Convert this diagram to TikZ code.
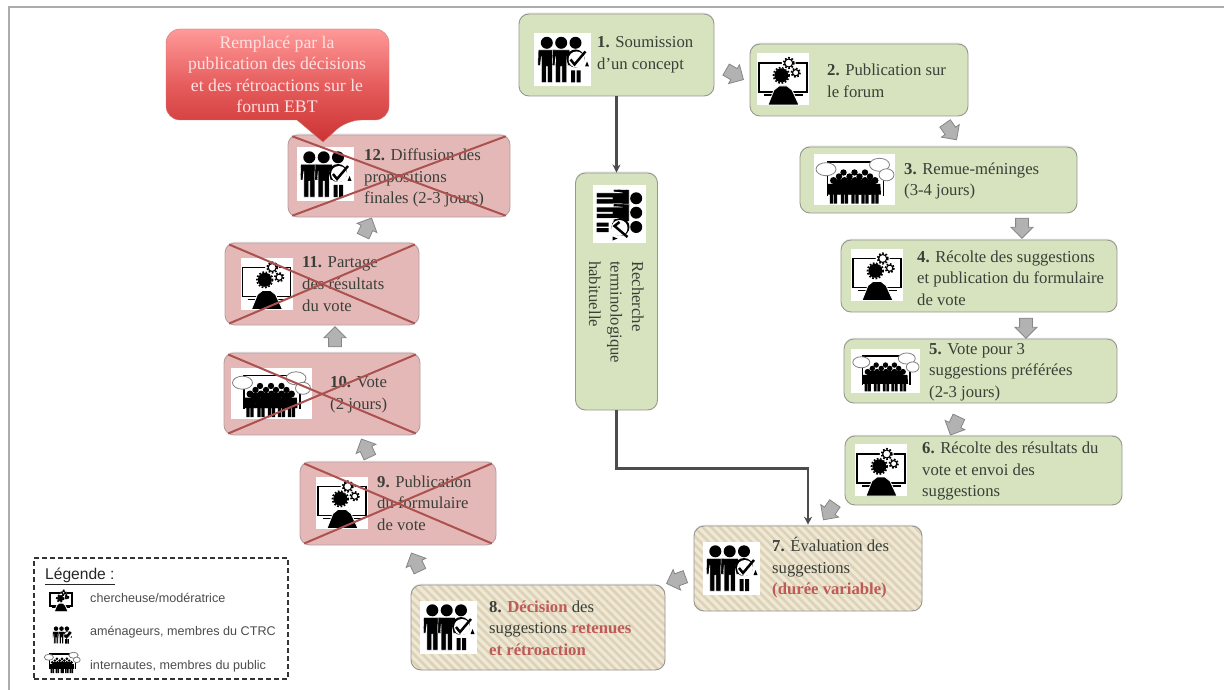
\documentclass[tikz,border=0pt]{standalone}
\usepackage{fontspec}
\setmainfont{Liberation Serif}
\setsansfont{Liberation Sans}
\usepackage{xcolor}
\usetikzlibrary{arrows.meta,shapes.arrows,patterns.meta,shadows}

\definecolor{vertclair}{HTML}{D7E3BE}
\definecolor{rougeclair}{HTML}{E5B8B8}
\definecolor{creme}{HTML}{EFE8D4}
\definecolor{hachure}{HTML}{DDD2B8}
\definecolor{rougetexte}{HTML}{BE5A58}
\definecolor{encre}{HTML}{3A3F38}

\tikzset{
  boxbase/.style={rectangle, rounded corners=10, inner sep=0, line width=.9,
    drop shadow={shadow xshift=0, shadow yshift=-1.5, opacity=.15}},
  vertbox/.style={boxbase, draw=gray!75!vertclair, fill=vertclair},
  rougebox/.style={boxbase, draw=rougeclair!55!gray, fill=rougeclair},
  rayebox/.style={boxbase, draw=gray!80!creme, preaction={fill=creme},
    pattern={Lines[angle=-45,distance=6,line width=2.6]}, pattern color=hachure},
  legendebox/.style={rectangle, inner sep=0, draw=black!80, dash pattern=on 5 off 3, line width=1.5},
  texte/.style={anchor=west, align=left, inner sep=0, text=encre,
    font=\fontsize{16.7}{21.6}\selectfont},
  legtexte/.style={anchor=west, inner sep=0, text=black!70, font=\sffamily\fontsize{12.6}{14}\selectfont},
  bloc/.style={single arrow, draw=gray!95, fill=gray!60, inner sep=0, line width=.8,
    text width=1, text height=6, text depth=6,
    minimum height=20, minimum width=21, single arrow head extend=4.5},
  fleche/.style={draw=black!70, line width=2.4, -{Stealth[length=8,width=8]}},
  croix/.style={draw=rougetexte!90!black, line width=2, shorten <=5, shorten >=5},
  roue/.style={line width=1.7, dash pattern=on 1.7 off 1.7},
  pics/equipe/.style={code={
    \fill[white] (-28.5,-26.5) rectangle (28.5,26.5);
    \foreach \cx in {-15.7,-1.3} {
      \fill (\cx,-16.7) circle (6);
      \fill[draw=white, line width=.4] (\cx-8.5,-9.5) -- (\cx+8.5,-9.5) -- (\cx+9,6) -- (\cx+6.5,6) -- (\cx+5.5,-3)
        -- (\cx+5.5,23) -- (\cx+.6,23) -- (\cx+.6,7) -- (\cx-.6,7) -- (\cx-.6,23) -- (\cx-5.5,23)
        -- (\cx-5.5,-3) -- (\cx-6.5,6) -- (\cx-9,6) -- cycle;
    }
    \fill (13,-16.7) circle (6);
    \fill (13,-1) circle (9);
    \fill[white] (14,0) circle (8);
    \fill (8.5,11) rectangle (12.5,23) (14,11) rectangle (18,23);
    \draw[line width=2.5] (8,0) -- (12,5) -- (23,-8);
    \fill (24.5,2) -- (26.5,7) -- (22.5,7) -- cycle;
  }},
  pics/ecran/.style={code={
    \fill[white] (-26,-26) rectangle (26,26);
    \draw[line width=1.8] (-24,-16) rectangle (24,13);
    \draw[line width=1.3] (-19,16) -- (20,16);
    \fill[draw=white, line width=.8] (-15,26) -- (-9,11) -- (-4,7) -- (4,7) -- (9,11) -- (16,26) -- cycle;
    \fill (-1.7,-3.7) circle (7);
    \draw[roue] (-1.7,-3.7) circle (7.8);
    \fill[white] (5.7,-16) circle (7) (12.7,-6.3) circle (5.8);
    \draw[line width=1.1] (5.7,-16) circle (4) (12.7,-6.3) circle (3.1);
    \draw[roue] (5.7,-16) circle (5.3);
    \draw[roue] (12.7,-6.3) circle (4.4);
  }},
  pics/foule/.style={code={
    \fill[white] (-40.5,-25.5) rectangle (40.5,25.5);
    \draw[line width=1.6] (-27,16) -- (-27,-17.5) -- (29,-17.5) -- (29,16);
    \foreach \cx in {-11,0,10.5} {
      \fill (\cx,-7) circle (3.2);
    }
    \foreach \cx in {-15.5,-5,5,15.5} {
      \fill (\cx,-3) circle (3.2) (\cx-5,0) rectangle (\cx+5,10);
    }
    \foreach \cx in {-21,-10,.5,10.5,20.5} {
      \fill (\cx,1) circle (3.5);
      \fill (\cx-5.3,4.5) -- (\cx+5.3,4.5) -- (\cx+6,15) -- (\cx+3.7,15) -- (\cx+3.7,24)
        -- (\cx+.4,24) -- (\cx+.4,15) -- (\cx-.4,15) -- (\cx-.4,24) -- (\cx-3.7,24) -- (\cx-3.7,15) -- (\cx-6,15) -- cycle;
    }
    \draw[draw=gray, fill=white, line width=.8] (-28.5,-10.3) ellipse (10 and 6.5);
    \draw[draw=gray, fill=white, line width=.8] (25,-14.7) ellipse (10 and 6.5);
    \draw[draw=gray, fill=white, line width=.8] (32,-4.7) ellipse (7.5 and 6);
  }}
}

\begin{document}
\begin{tikzpicture}[x=1pt, y=-1pt]
\useasboundingbox (0,0) rectangle (1224,690);

\draw[gray!65, line width=1.6] (9,690) -- (9,7) -- (1224,7);

% etapes
\node[vertbox, minimum width=195, minimum height=82] (n1) at (616.5,55) {};
\node[vertbox, minimum width=218, minimum height=72] (n2) at (859,80) {};
\node[vertbox, minimum width=277, minimum height=66] (n3) at (938.5,180) {};
\node[vertbox, minimum width=276, minimum height=72] (n4) at (979,276) {};
\node[vertbox, minimum width=273, minimum height=64] (n5) at (980.5,371) {};
\node[vertbox, minimum width=277, minimum height=69] (n6) at (983.5,470.5) {};
\node[rayebox, minimum width=228, minimum height=85] (n7) at (808,568.5) {};
\node[rayebox, minimum width=254, minimum height=85] (n8) at (538,627.5) {};
\node[rougebox, minimum width=196, minimum height=83] (n9) at (398,503.5) {};
\node[rougebox, minimum width=196, minimum height=82] (n10) at (322,394) {};
\node[rougebox, minimum width=194, minimum height=82] (n11) at (322,284) {};
\node[rougebox, minimum width=222, minimum height=82] (n12) at (399,176) {};
\node[vertbox, minimum width=82, minimum height=237] (rech) at (616.5,291.5) {};

% icones
\pic at (562.5,59.5) {equipe};
\pic at (783,79) {ecran};
\pic at (854.5,179.5) {foule};
\pic at (877,274.5) {ecran};
\pic[scale=.85, transform shape] at (885.5,371) {foule};
\pic at (881,470) {ecran};
\pic at (731,568) {equipe};
\pic at (448,627) {equipe};
\pic at (342,502.5) {ecran};
\pic at (271,393) {foule};
\pic at (266.5,283.5) {ecran};
\pic at (325,174) {equipe};
\pic[rotate=-90] at (619.5,214) {equipe};

% textes
\node[texte] (t1) at (597,55) {\textbf{1.} Soumission\\d’un concept};
\node[texte] (t2) at (827,81) {\textbf{2.} Publication sur\\le forum};
\node[texte] (t3) at (904,181) {\textbf{3.} Remue-méninges\\(3-4 jours)};
\node[texte] (t4) at (917,278) {\textbf{4.} Récolte des suggestions\\et publication du formulaire\\de vote};
\node[texte] (t5) at (929,372) {\textbf{5.} Vote pour 3\\suggestions préférées\\(2-3 jours)};
\node[texte] (t6) at (922,471) {\textbf{6.} Récolte des résultats du\\vote et envoi des\\suggestions};
\node[texte] (t7) at (772,568) {\textbf{7.} Évaluation des\\suggestions\\\textcolor{rougetexte}{\textbf{(durée variable)}}};
\node[texte] (t8) at (489,628) {\textbf{8.} \textcolor{rougetexte}{\textbf{Décision}} des\\suggestions \textcolor{rougetexte}{\textbf{retenues}}\\\textcolor{rougetexte}{\textbf{et rétroaction}}};
\node[texte] (t9) at (377,503) {\textbf{9.} Publication\\du formulaire\\de vote};
\node[texte] (t10) at (330,395) {\textbf{10.} Vote\\(2 jours)};
\node[texte] (t11) at (302,284) {\textbf{11.} Partage\\des résultats\\du vote};
\node[texte] (t12) at (364,178) {\textbf{12.} Diffusion des\\propositions\\finales (2-3 jours)};
\node[texte, rotate=-90, anchor=north west] (trech) at (644,261) {Recherche\\terminologique\\habituelle};

% croix
\foreach \n in {n9,n10,n11,n12} {
  \draw[croix] (\n.north west) -- (\n.south east);
  \draw[croix] (\n.south west) -- (\n.north east);
}

% bulle
\path[draw=rougetexte!80, top color=red!40!white, bottom color=red!75!black!80, middle color=red!60!white!90!black]
  [rounded corners=14] (166,75) -- (166,29) -- (389,29) -- (389,120) -- (347,120)
  [sharp corners] -- (323,142) -- (297,120)
  [rounded corners=14] -- (166,120) -- cycle;
\node[texte, anchor=center, align=center, text=white!88!red, font=\fontsize{17.7}{21.6}\selectfont] (bulle) at (277,74.5)
  {Remplacé par la\\publication des décisions\\et des rétroactions sur le\\forum EBT};

% connecteurs
\draw[fleche] (n1.south) -- (rech.north);
\draw[fleche] (rech.south) -- ++(0,58) -| (n7.north);

\node[bloc, rotate=-30] (a1) at (732,73) {};
\node[bloc, rotate=-55] (a2) at (949,129) {};
\node[bloc, rotate=-90] (a3) at (1022,225) {};
\node[bloc, rotate=-90] (a4) at (1026,325) {};
\node[bloc, rotate=-115] (a5) at (956,423) {};
\node[bloc, rotate=-125] (a6) at (831,509) {};
\node[bloc, rotate=200] (a7) at (679,579) {};
\node[bloc, rotate=115] (a8) at (417,565) {};
\node[bloc, rotate=115] (a9) at (367,451) {};
\node[bloc, rotate=90] (a10) at (335,340) {};
\node[bloc, rotate=65] (a11) at (366,230) {};

% legende
\node[legendebox, minimum width=254, minimum height=121] (leg) at (161,618.5) {};
\node[legtexte, text=black!85, font=\sffamily\fontsize{15.6}{17}\selectfont] (legtitre) at (45,576) {\underline{Légende :}};
\pic[scale=.45, transform shape] at (61,600) {ecran};
\pic[scale=.38, transform shape] at (62,635) {equipe};
\pic[scale=.46, transform shape] at (62,662) {foule};
\node[legtexte] (leg1) at (90,598) {chercheuse/modératrice};
\node[legtexte] (leg2) at (90,632) {aménageurs, membres du CTRC};
\node[legtexte] (leg3) at (90,666) {internautes, membres du public};

\end{tikzpicture}
\end{document}
